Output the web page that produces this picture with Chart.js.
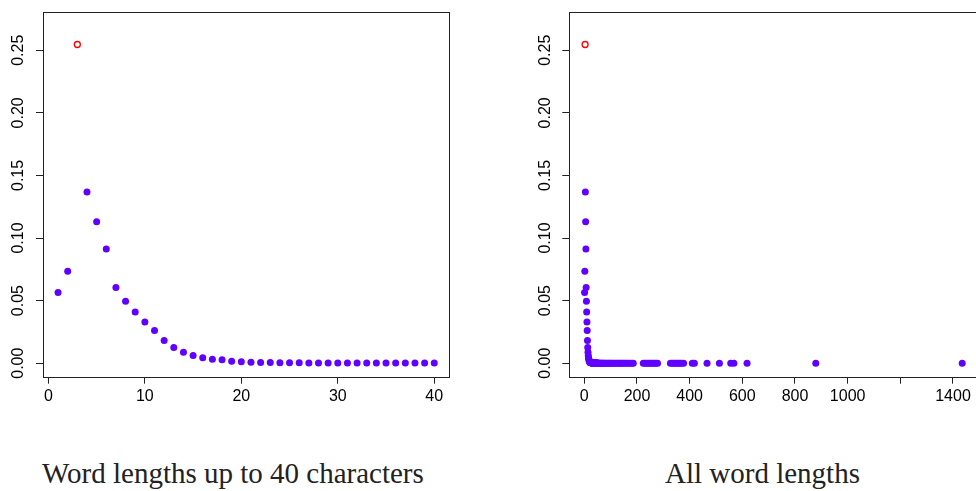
<!DOCTYPE html>
<html>
<head>
<meta charset="utf-8">
<script src="https://cdn.jsdelivr.net/npm/chart.js@4.4.0/dist/chart.umd.min.js"></script>
<style>
  html, body { margin: 0; padding: 0; background: #fff; overflow: hidden; }
  #wrap { position: relative; width: 976px; height: 491px; overflow: hidden; }
  canvas { position: absolute; top: 0; }
  #left { left: 0; }
  #right { left: 526px; }
  .title {
    position: absolute; top: 458.7px; font-family: "Liberation Serif", serif;
    font-size: 29px; line-height: 29px; color: #222; white-space: nowrap;
  }
</style>
</head>
<body>
<div id="wrap">
  <canvas id="left" width="488" height="420" style="width:488px;height:420px"></canvas>
  <canvas id="right" width="460" height="420" style="width:460px;height:420px"></canvas>
  <div class="title" style="left:42px">Word lengths up to 40 characters</div>
  <div class="title" style="left:665px">All word lengths</div>
</div>
<script>
// ===== DATA =====
// relative frequency of word lengths 1..40
const shortLengths = [1, 2, 3, 4, 5, 6, 7, 8, 9, 10, 11, 12, 13, 14, 15, 16, 17, 18, 19, 20,
    21, 22, 23, 24, 25, 26, 27, 28, 29, 30, 31, 32, 33, 34, 35, 36, 37, 38, 39, 40];
const shortFreq = [0.0564, 0.0735, 0.2546, 0.1368, 0.1130, 0.0913, 0.0604, 0.0494, 0.0409, 0.0329,
    0.0262, 0.0182, 0.0126, 0.0088, 0.0062, 0.0043, 0.0032, 0.0027, 0.0016, 0.0011,
    0.0008, 0.0006, 0.0005, 0.0004, 0.0003, 0.0003, 0.0002, 0.0002, 0.0002, 0.0001,
    0.0001, 0.0001, 0.0001, 0.0001, 0.0001, 0.0001, 0.0001, 0.0001, 0.0001, 0.0001];
const modeLength = 3; // most common length, drawn as red circle

// longer words (only in the right panel), all close to zero
const longLengths = [41, 42, 43, 44, 45, 46, 47, 48, 50, 52, 54, 56, 58, 60, 63, 66, 69, 72, 75, 79,
    83, 87, 91, 95, 99, 104, 109, 114, 119, 124, 129, 134, 139, 144, 149, 155, 161, 167, 173, 180, 186,
    224, 230, 236, 242, 248, 254, 260, 266, 272, 278,
    327, 333, 339, 345, 351, 357, 363, 369, 377,
    410, 418, 466, 513, 556, 568, 618, 879, 1435];
const longFreq = [0.00009, 0.00008, 0.00008, 0.00007, 0.00007, 0.00006, 0.00006, 0.00005, 0.00005, 0.00004,
    0.00004, 0.00004, 0.00003, 0.00003, 0.00003, 0.00003, 0.00002, 0.00002, 0.00002, 0.00002,
    0.00002, 0.00002, 0.00002, 0.00002, 0.00001, 0.00001, 0.00001, 0.00001, 0.00001, 0.00001,
    0.00001, 0.00001, 0.00001, 0.00001, 0.00001, 0.00001, 0.00001, 0.00001, 0.00001, 0.00001, 0.00001,
    0.00001, 0.00001, 0.00001, 0.00001, 0.00001, 0.00001, 0.00001, 0.00001, 0.00001, 0.00001,
    0.00001, 0.00001, 0.00001, 0.00001, 0.00001, 0.00001, 0.00001, 0.00001, 0.00001,
    0.00001, 0.00001, 0.00001, 0.00001, 0.00001, 0.00001, 0.00001, 0.00001, 0.00001];

// ticks
const yTicks = [0, 0.05, 0.10, 0.15, 0.20, 0.25];
const yTickLabels = ["0.00", "0.05", "0.10", "0.15", "0.20", "0.25"];
const xTicksShort = [0, 10, 20, 30, 40];
const xTickLabelsShort = ["0", "10", "20", "30", "40"];
const xTicksAll = [0, 200, 400, 600, 800, 1000, 1200, 1400];
const xTickLabelsAll = ["0", "200", "400", "600", "800", "1000", "", "1400"];

const PURPLE = "#6000ff";
const RED = "#ff0000";
const INK = "#222";

function toPoints(xs, ys, keep) {
    let out = [];
    xs.forEach((x, i) => { if (keep(x)) out.push({ x: x, y: ys[i] }); });
    return out;
}

// R style box around the plot + rotated y labels
const boxPlugin = {
    id: "rbox",
    afterDraw(chart) {
        const ctx = chart.ctx, a = chart.chartArea;
        ctx.save();
        ctx.strokeStyle = INK;
        ctx.lineWidth = 1;
        ctx.strokeRect(Math.round(a.left) + 0.5, Math.round(a.top) + 0.5,
            Math.round(a.right - a.left), Math.round(a.bottom - a.top));
        const ys = chart.scales.y;
        ctx.fillStyle = "#000";
        ctx.font = '16px "Liberation Sans", Arial, sans-serif';
        ctx.textAlign = "center";
        ctx.textBaseline = "middle";
        yTicks.forEach((v, i) => {
            ctx.save();
            ctx.translate(a.left - 24, ys.getPixelForValue(v));
            ctx.rotate(-Math.PI / 2);
            ctx.fillText(yTickLabels[i], 0, 0);
            ctx.restore();
        });
        ctx.restore();
    }
};

function makeChart(id, purplePts, xMin, xMax, xTicks, xLabels, padRight, yWidth) {
    new Chart(document.getElementById(id), {
        type: "scatter",
        data: {
            datasets: [{
                data: toPoints(shortLengths, shortFreq, x => x === modeLength),
                pointRadius: 3,
                pointBorderWidth: 1.3,
                pointBorderColor: RED,
                pointBackgroundColor: "rgba(0,0,0,0)"
            }, {
                data: purplePts,
                pointRadius: 3.5,
                pointBorderWidth: 0,
                pointBackgroundColor: PURPLE
            }]
        },
        options: {
            responsive: false,
            animation: false,
            events: [],
            layout: { autoPadding: false, padding: { left: 0, top: 11.7, right: padRight, bottom: 0 } },
            plugins: { legend: { display: false }, tooltip: { enabled: false } },
            scales: {
                x: {
                    type: "linear", min: xMin, max: xMax,
                    afterBuildTicks: s => { s.ticks = xTicks.map(v => ({ value: v })); },
                    afterFit: s => { s.height = 43.3; },
                    border: { display: false },
                    grid: { drawOnChartArea: false, drawTicks: true, tickLength: 7, color: INK, lineWidth: 1 },
                    ticks: {
                        padding: 3, color: "#000",
                        font: { family: '"Liberation Sans", Arial, sans-serif', size: 16 },
                        maxRotation: 0, autoSkip: false,
                        callback: (v) => { let i = xTicks.indexOf(v); return i >= 0 ? xLabels[i] : ""; }
                    }
                },
                y: {
                    type: "linear", min: -0.0108, max: 0.2808,
                    afterBuildTicks: s => { s.ticks = yTicks.map(v => ({ value: v })); },
                    afterFit: s => { s.width = yWidth; },
                    border: { display: false },
                    grid: { drawOnChartArea: false, drawTicks: true, tickLength: 7, color: INK, lineWidth: 1 },
                    ticks: { display: false }
                }
            }
        },
        plugins: [boxPlugin]
    });
}

// left: lengths up to 40
makeChart("left", toPoints(shortLengths, shortFreq, x => x !== modeLength),
    -0.56, 41.56, xTicksShort, xTickLabelsShort, 488 - 449.3, 43);

// right: all lengths (box continues past the window edge)
makeChart("right",
    toPoints(shortLengths, shortFreq, x => x !== modeLength).concat(toPoints(longLengths, longFreq, () => true)),
    -57, 1492.3, xTicksAll, xTickLabelsAll, 460 - (977.3 - 526), 43.3);
</script>
</body>
</html>
